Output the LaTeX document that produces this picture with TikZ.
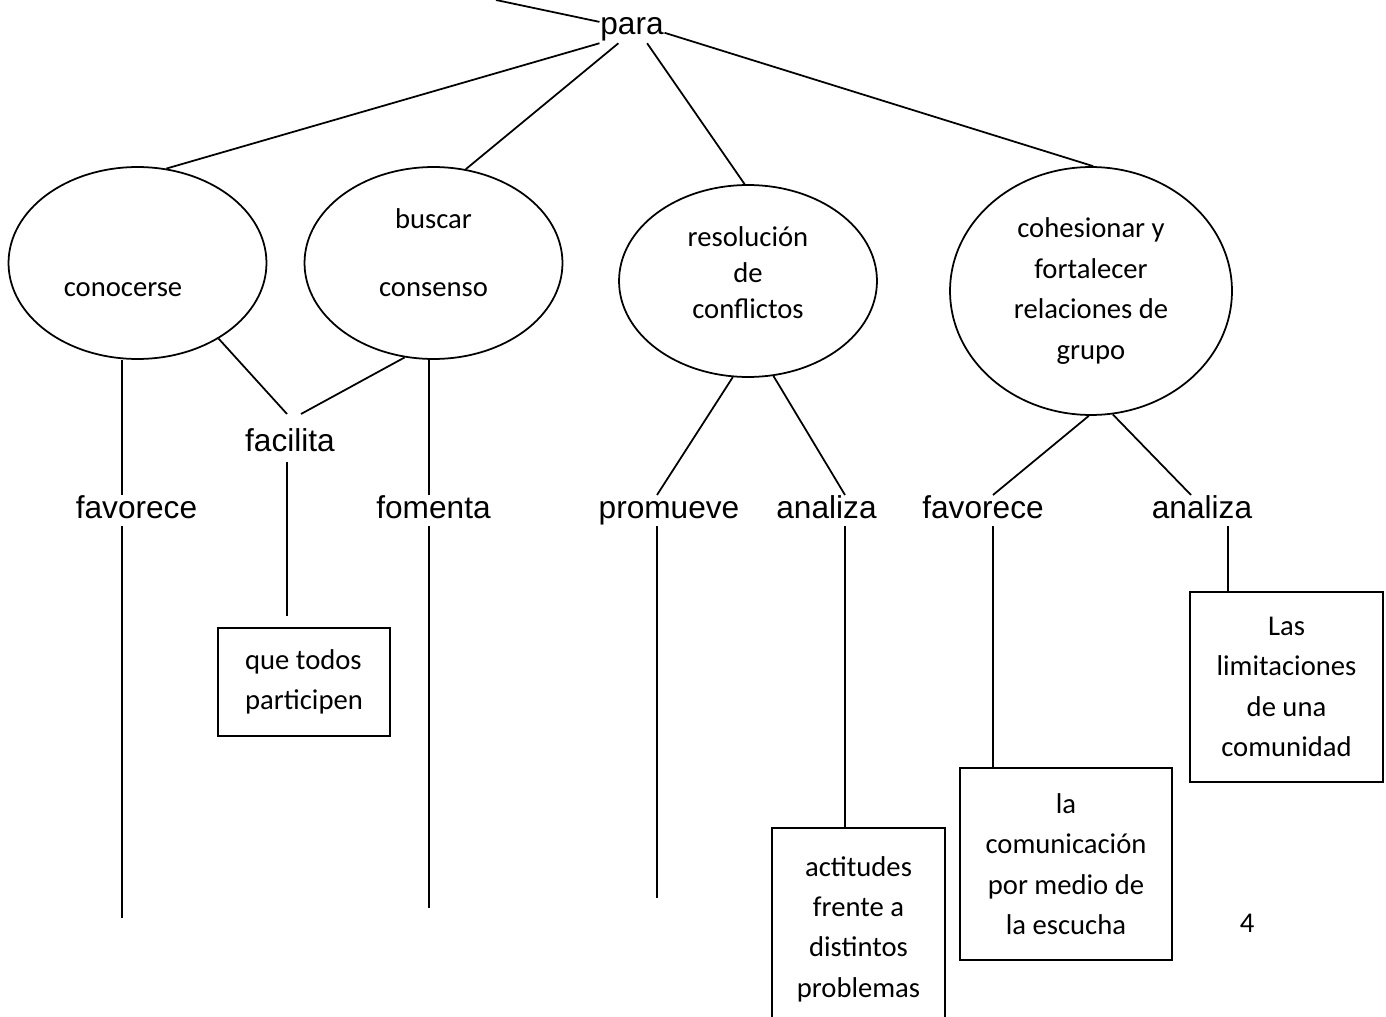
\documentclass[tikz,border=0pt]{standalone}
\usepackage{fontspec}
\setmainfont{Carlito}
\newfontfamily\arialfont{Liberation Sans}
\usetikzlibrary{shapes.geometric}

\tikzset{
    oval/.style={draw, ellipse, inner sep=0pt, minimum width=5.16cm, minimum height=3.84cm},
    ovaltext/.style={font=\fontsize{16.3}{23}\selectfont, align=center, inner sep=0pt},
    lbl/.style={font=\arialfont\fontsize{18}{21}\selectfont, inner sep=0pt, text height=12.6pt, text depth=4.2pt, anchor=base},
    txtbox/.style={draw, rectangle, inner sep=0pt, font=\fontsize{16.3}{23}\selectfont, align=center}
}

\begin{document}
\begin{tikzpicture}[x=0.02cm,y=-0.02cm,line width=1pt]

    \useasboundingbox (0,0) rectangle (1386,1017);
    \clip (0,0) rectangle (1386,1017);

    \node[lbl] (para) at (632,35) {para};
    \coordinate (topfree) at (496,0);

    \node[oval, label={[ovaltext,xshift=-0.29cm,yshift=-0.54cm]center:conocerse}] (conocerse) at (137.5,263) {};
    \node[oval, label={[ovaltext,yshift=0.21cm]center:buscar\\[15.6pt]consenso}] (buscar) at (433.5,263) {};
    \node[oval, label={[ovaltext,yshift=0.17cm]center:resolución\\[-2.6pt]de\\[-2.6pt]conflictos}] (resol) at (748,281) {};
    \node[oval, minimum width=5.64cm, minimum height=4.96cm, label={[ovaltext]center:cohesionar y\\fortalecer\\relaciones de\\grupo}] (cohes) at (1091,291) {};

    \node[lbl] (facilita) at (290,451) {facilita};
    \node[lbl] (fav1) at (136.5,518) {favorece};
    \node[lbl] (fomenta) at (433.5,518) {fomenta};
    \node[lbl] (promueve) at (669,518) {promueve};
    \node[lbl] (analiza1) at (826.5,518) {analiza};
    \node[lbl] (fav2) at (983,518) {favorece};
    \node[lbl] (analiza2) at (1202,518) {analiza};

    \node[txtbox, align=left, minimum width=3.44cm, minimum height=2.16cm] (todos) at (304,682) {que todos\\participen};
    \node[txtbox, minimum width=3.46cm, minimum height=4.04cm] (actitudes) at (858.5,929) {actitudes\\frente a\\distintos\\problemas};
    \node[txtbox, minimum width=4.24cm, minimum height=3.84cm] (comunic) at (1066,864) {la\\comunicación\\por medio de\\la escucha};
    \node[txtbox, minimum width=3.86cm, minimum height=3.8cm] (limites) at (1286.5,687) {Las\\limitaciones\\de una\\comunidad};
    \node[font=\fontsize{16.3}{23}\selectfont] (pagenum) at (1247,923) {4};

    \draw (topfree) -- (para.170);
    \draw (para.south west) -- (conocerse.73);
    \draw (para.-131) -- (buscar.71);
    \draw (para.-46) -- (resol.92);
    \draw (para.-9) -- (cohes.89);

    \draw (conocerse.-43) -- ([xshift=-0.06cm,yshift=0.28cm]facilita.north);
    \draw (buscar.-107) -- ([xshift=0.22cm,yshift=0.28cm]facilita.north);
    \coordinate (fdrop) at ([xshift=-0.06cm,yshift=-0.05cm]facilita.south);
    \draw[shorten >=0.22cm] (fdrop) -- (fdrop |- todos.north);

    \coordinate (c1end) at (122,918);
    \draw (conocerse.south -| c1end) -- (fav1.north -| c1end);
    \draw (fav1.south -| c1end) -- (c1end);

    \coordinate (c2end) at (429,908);
    \draw (buscar.south -| c2end) -- (fomenta.north -| c2end);
    \draw (fomenta.south -| c2end) -- (c2end);

    \coordinate (c3end) at (657,898);
    \draw (resol.-99) -- (promueve.north -| c3end);
    \draw (promueve.south -| c3end) -- (c3end);

    \coordinate (a1drop) at ([xshift=0.37cm]analiza1.south);
    \draw (resol.-75) -- (a1drop |- analiza1.north);
    \draw (a1drop) -- (a1drop |- actitudes.north);

    \coordinate (f2drop) at ([xshift=0.2cm]fav2.south);
    \draw (cohes.-91) -- (f2drop |- fav2.north);
    \draw (f2drop) -- (f2drop |- comunic.north);

    \coordinate (a2drop) at ([xshift=0.52cm]analiza2.south);
    \draw (cohes.-80) -- ([xshift=-0.22cm]analiza2.north);
    \draw (a2drop) -- (a2drop |- limites.north);

\end{tikzpicture}
\end{document}
